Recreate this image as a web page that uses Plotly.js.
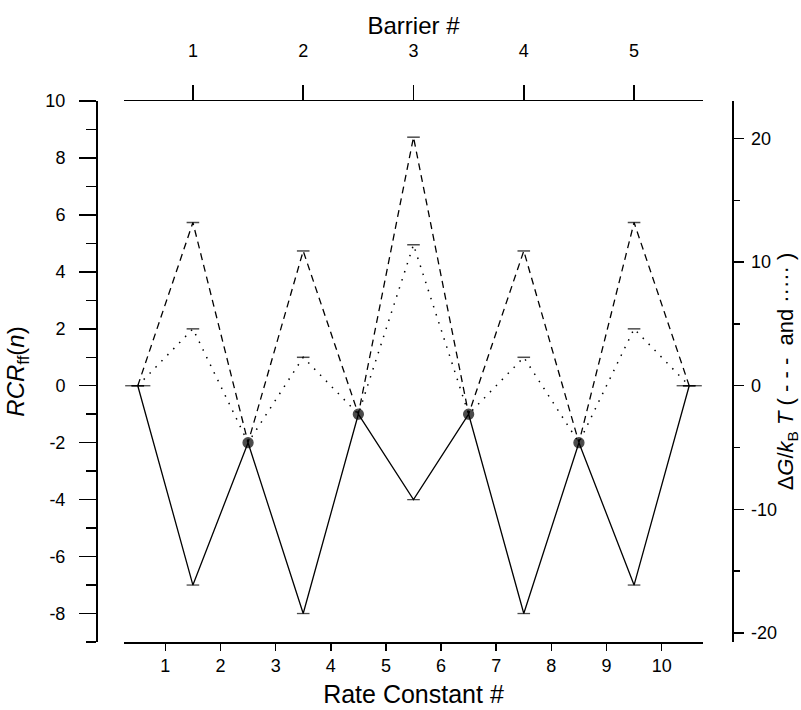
<!DOCTYPE html>
<html>
<head>
<meta charset="utf-8">
<script src="https://cdn.plot.ly/plotly-3.0.1.min.js"></script>
<style>
  html, body { margin: 0; padding: 0; background: #fff; }
  #chart { width: 801px; height: 710px; }
</style>
</head>
<body>
<div id="chart"></div>
<script>
// ---- data ----
var rateConstant = [0.5, 1.5, 2.5, 3.5, 4.5, 5.5, 6.5, 7.5, 8.5, 9.5, 10.5];
var rcrSolid     = [0, -7, -2, -8, -1, -4, -1, -8, -2, -7, 0];                     // left axis, RCR_ff(n)
var dGDashed     = [0, 13.2, -4.6, 10.9, -2.3, 20.1, -2.3, 10.9, -4.6, 13.2, 0];   // right axis, ΔG/kBT
var dGDotted     = [0, 4.6, -4.6, 2.3, -2.3, 11.4, -2.3, 2.3, -4.6, 4.6, 0];       // right axis, ΔG/kBT
var solidSymbols = ['line-ew', 'line-ew', 'circle', 'line-ew', 'circle', 'line-ew', 'circle', 'line-ew', 'circle', 'line-ew', 'line-ew'];
var barrierPos    = [1.5, 3.5, 5.5, 7.5, 9.5];
var barrierLabels = ['1', '2', '3', '4', '5'];
var bottomTicks   = [1, 2, 3, 4, 5, 6, 7, 8, 9, 10];
var leftTicks     = [-8, -6, -4, -2, 0, 2, 4, 6, 8, 10];
var rightTicks    = [-20, -10, 0, 10, 20];
var leftRange     = [-9, 10];
var LN10 = Math.log(10);

var FONT = 'Liberation Sans, Arial, Helvetica, sans-serif';
function lbl(v) { return String(v).replace('\u2212', '-'); }

var solidSizes = solidSymbols.map(function (s, i) {
  if (s === 'circle') return 10;
  return (i === 0 || i === solidSymbols.length - 1) ? 18 : 9;
});
// caps on the dashed / dotted curves only where the solid curve has no dot
var capSizes = solidSymbols.map(function (s) { return s === 'circle' ? 0 : 9; });

var traces = [
  {
    x: rateConstant, y: dGDashed, xaxis: 'x', yaxis: 'y2', type: 'scatter', mode: 'lines+markers',
    line: { color: '#000', width: 1.3, dash: '7px,5px' },
    marker: { symbol: 'line-ew', size: capSizes, color: '#000', line: { color: '#000', width: 1.5 } },
    hoverinfo: 'skip', showlegend: false
  },
  {
    x: rateConstant, y: dGDotted, xaxis: 'x', yaxis: 'y2', type: 'scatter', mode: 'lines+markers',
    line: { color: '#000', width: 1.5, dash: '1.5px,7px' },
    marker: { symbol: 'line-ew', size: capSizes, color: '#000', line: { color: '#000', width: 1.5 } },
    hoverinfo: 'skip', showlegend: false
  },
  {
    x: rateConstant, y: rcrSolid, xaxis: 'x', yaxis: 'y', type: 'scatter', mode: 'lines+markers',
    line: { color: '#000', width: 1.3 },
    marker: { symbol: solidSymbols, size: solidSizes, color: '#000', line: { color: '#000', width: 1.3 } },
    hoverinfo: 'skip', showlegend: false
  },
  {
    x: barrierPos, y: barrierPos.map(function () { return null; }), xaxis: 'x2', yaxis: 'y',
    type: 'scatter', mode: 'none', hoverinfo: 'skip', showlegend: false
  }
];

var axisCommon = {
  showgrid: false, zeroline: false, showline: true, linecolor: '#000', linewidth: 1.5,
  ticks: 'outside', tickcolor: '#000', tickwidth: 1.5,
  tickfont: { family: FONT, size: 18, color: '#000' }
};

var layout = {
  width: 801, height: 710,
  margin: { l: 96, r: 69, t: 101, b: 68, pad: 0 },
  paper_bgcolor: '#fff', plot_bgcolor: '#fff',
  font: { family: FONT, color: '#000' },
  showlegend: false,
  xaxis: Object.assign({}, axisCommon, {
    domain: [0.044, 0.9544], range: [0.25, 10.75], anchor: 'y',
    tickvals: bottomTicks, ticktext: bottomTicks.map(lbl), ticklen: 7,
    title: { text: 'Rate Constant #', font: { family: FONT, size: 25, color: '#000' }, standoff: 10 }
  }),
  xaxis2: Object.assign({}, axisCommon, {
    overlaying: 'x', side: 'top', anchor: 'y', range: [0.25, 10.75],
    tickvals: barrierPos, ticktext: barrierLabels, ticklen: 15, ticklabelstandoff: 20,
    title: { text: 'Barrier #', font: { family: FONT, size: 24, color: '#000' }, standoff: 0 }
  }),
  yaxis: Object.assign({}, axisCommon, {
    anchor: 'free', position: 0, range: leftRange, domain: [0, 1],
    tickvals: leftTicks, ticktext: leftTicks.map(lbl), ticklen: 17, ticklabelstandoff: 10,
    minor: { dtick: 1, tick0: 0, ticks: 'outside', ticklen: 10, tickcolor: '#000', tickwidth: 1.5 },
    title: { text: '<i>RCR</i><sub>ff</sub>(<i>n</i>)', font: { family: FONT, size: 24, color: '#000' }, standoff: 12 }
  }),
  yaxis2: Object.assign({}, axisCommon, {
    overlaying: 'y', side: 'right', anchor: 'free', position: 1,
    range: [leftRange[0] * LN10, leftRange[1] * LN10],
    tickvals: rightTicks, ticktext: rightTicks.map(lbl), ticklen: 10, ticklabelstandoff: 4,
    minor: { dtick: 5, tick0: 0, ticks: 'outside', ticklen: 6, tickcolor: '#000', tickwidth: 1.5 },
    title: { text: 'Δ<i>G</i>/<i>k</i><sub>B</sub> <i>T</i> ( - - -  and ····· )', font: { family: FONT, size: 22, color: '#000' }, standoff: 12 }
  })
};

Plotly.newPlot('chart', traces, layout, { staticPlot: true, displayModeBar: false });
</script>
</body>
</html>
